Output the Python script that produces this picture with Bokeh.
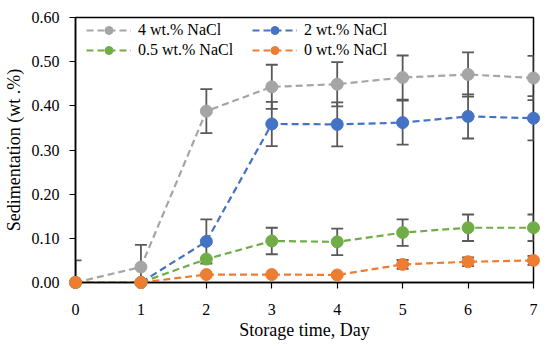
from bokeh.plotting import figure
from bokeh.models import (ColumnDataSource, Whisker, TeeHead, FixedTicker,
                          NumeralTickFormatter, Legend, LegendItem, Range1d)
from bokeh.embed import file_html
from bokeh.resources import INLINE
import numpy as np

days = [0, 1, 2, 3, 4, 5, 6, 7]
labels = ["4 wt.% NaCl", "2 wt.% NaCl", "0.5 wt.% NaCl", "0 wt.% NaCl"]
s4 = [0.000, 0.035, 0.388, 0.443, 0.449, 0.464, 0.471, 0.463]
s2 = [0.000, 0.000, 0.093, 0.359, 0.358, 0.362, 0.376, 0.372]
s05 = [0.000, 0.000, 0.053, 0.094, 0.092, 0.113, 0.124, 0.124]
s0 = [0.000, 0.000, 0.018, 0.018, 0.017, 0.041, 0.047, 0.050]
e4 = [0.05, 0.05, 0.05, 0.05, 0.05, 0.05, 0.05, 0.05]
e2 = [0.0, 0.0, 0.05, 0.05, 0.05, 0.05, 0.05, 0.05]
e05 = [0.0, 0.0, 0.0, 0.03, 0.03, 0.03, 0.03, 0.03]
e0 = [0.0, 0.0, 0.0, 0.0, 0.0, 0.01, 0.01, 0.01]
colors = ["#A5A5A5", "#4472C4", "#70AD47", "#ED7D31"]
yticks = [0.0, 0.1, 0.2, 0.3, 0.4, 0.5, 0.6]

FONT = "Liberation Serif"

p = figure(width=550, height=350, output_backend="svg", toolbar_location=None,
           x_range=Range1d(0, 7), y_range=Range1d(0, 0.6))
p.min_border_left = 75
p.min_border_right = 17
p.min_border_top = 17
p.min_border_bottom = 68
p.xgrid.visible = False
p.ygrid.visible = False
p.outline_line_color = "black"
p.outline_line_width = 1.5
p.background_fill_color = "white"
p.border_fill_color = "white"

for ax in (p.xaxis[0], p.yaxis[0]):
    ax.axis_line_color = "black"
    ax.axis_line_width = 1.5
    ax.major_tick_line_color = "black"
    ax.major_tick_line_width = 1.2
    ax.major_tick_out = 6
    ax.major_tick_in = 0
    ax.minor_tick_line_color = None
    ax.major_label_text_font = FONT
    ax.major_label_text_font_size = "16px"
    ax.major_label_text_color = "black"
    ax.axis_label_text_font = FONT
    ax.axis_label_text_font_size = "18px"
    ax.axis_label_text_font_style = "normal"
    ax.axis_label_text_color = "black"

p.xaxis.ticker = FixedTicker(ticks=days)
p.yaxis.ticker = FixedTicker(ticks=yticks)
p.yaxis.formatter = NumeralTickFormatter(format="0.00")
p.xaxis.axis_label = "Storage time, Day"
p.yaxis.axis_label = "Sedimentation (wt .%)"
p.xaxis.major_label_standoff = 15
p.xaxis.axis_label_standoff = 2
p.yaxis.major_label_standoff = 10
p.yaxis.axis_label_standoff = 5

items = []
series = [s4, s2, s05, s0]
errs = [e4, e2, e05, e0]
for vals, err, col, lab in zip(series, errs, colors, labels):
    v = np.array(vals)
    e = np.array(err)
    src = ColumnDataSource(dict(x=days, y=vals))
    lr = p.line("x", "y", source=src, line_color=col, line_width=2.2,
                line_dash="7 4")
    sr = p.scatter("x", "y", source=src, size=12, fill_color=col,
                   line_color=col, level="overlay")
    items.append(LegendItem(label=lab, renderers=[lr, sr]))
    esel = [i for i in range(len(days)) if err[i] > 0]
    esrc = ColumnDataSource(dict(x=[days[i] for i in esel],
                                 upper=[float(v[i] + e[i]) for i in esel],
                                 lower=[float(max(v[i] - e[i], 0.0)) for i in esel]))
    w = Whisker(source=esrc, base="x", upper="upper", lower="lower",
                line_color="#595959", line_width=1.8, level="glyph",
                upper_head=TeeHead(size=12, line_color="#595959", line_width=1.8),
                lower_head=TeeHead(size=12, line_color="#595959", line_width=1.8))
    p.add_layout(w)

legend = Legend(items=items, ncols=2, orientation="horizontal",
                location=(11, 222), glyph_width=45, glyph_height=20,
                label_standoff=7, spacing=0, padding=2, margin=0,
                label_width=114, label_height=20,
                label_text_font=FONT, label_text_font_size="16px",
                label_text_color="black", background_fill_alpha=0,
                border_line_color=None)
p.add_layout(legend)

open("out.html", "w").write(file_html(p, INLINE))
